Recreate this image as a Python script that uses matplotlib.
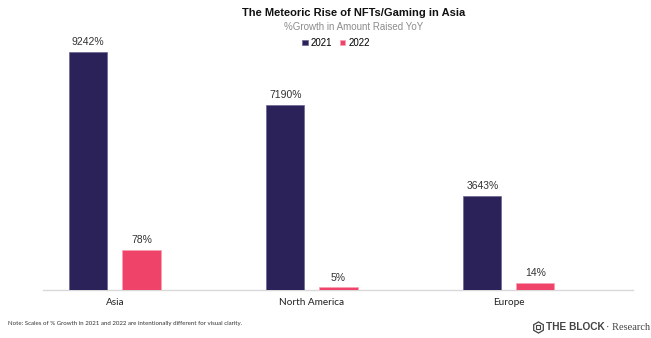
import matplotlib
matplotlib.use("Agg")
import matplotlib.pyplot as plt
from matplotlib.lines import Line2D
import numpy as np

categories = ["Asia", "North America", "Europe"]
values_2021 = [9242, 7190, 3643]
values_2022 = [78, 5, 14]
series_names = ["2021", "2022"]

NAVY = "#2B225A"
PINK = "#F0436A"

fig = plt.figure(figsize=(6.51, 3.38), dpi=100)
ax = fig.add_axes([43/651, 1-290/338, (633-43)/651, 250/338])
ax2 = ax.twinx()

x = np.arange(len(categories))
w = 0.193
off = 0.135

b1 = ax.bar(x - off, values_2021, w, color=NAVY, edgecolor="#6a6590", linewidth=0.5, label=series_names[0], zorder=3)
b2 = ax2.bar(x + off, values_2022, w, color=PINK, edgecolor="#f7a0b4", linewidth=0.5, label=series_names[1], zorder=3)

ax.set_ylim(0, 9708)
ax2.set_ylim(0, 487.5)
ax.set_xlim(-0.365, 2.63)

for a in (ax, ax2):
    for s in a.spines.values():
        s.set_visible(False)
    a.set_yticks([])
ax.spines["bottom"].set_visible(True)
ax.spines["bottom"].set_color("#d9d9d9")
ax.spines["bottom"].set_linewidth(1.0)

ax.set_xticks(x)
ax.set_xticklabels(categories, fontsize=7.2, family="Lato", color="#222222")
ax.tick_params(axis="x", length=0, pad=6)

for rect, v in zip(b1, values_2021):
    ax.annotate(f"{v}%", (rect.get_x() + rect.get_width()/2, rect.get_height()),
                xytext=(0, 3.5), textcoords="offset points", ha="center", va="bottom",
                fontsize=7.5, family="Liberation Sans", color="#333333")
for rect, v in zip(b2, values_2022):
    ax2.annotate(f"{v}%", (rect.get_x() + rect.get_width()/2, rect.get_height()),
                 xytext=(0, 3.5), textcoords="offset points", ha="center", va="bottom",
                 fontsize=7.5, family="Liberation Sans", color="#333333")

fig.text(354/651, 1-13/338, "The Meteoric Rise of NFTs/Gaming in Asia", ha="center", va="center",
         fontsize=8, fontweight="bold", family="Liberation Sans", color="#111111")
fig.text(354/651, 1-27/338, "%Growth in Amount Raised YoY", ha="center", va="center",
         fontsize=7, family="Liberation Sans", color="#8c8c8c")

handles = [b1, b2]
leg = fig.legend(handles, series_names, loc="center", bbox_to_anchor=(336/651, 1-43/338), ncol=2,
                 frameon=False, handlelength=0.55, handleheight=0.55,
                 handletextpad=0.3, columnspacing=0.8, prop={"family": "Liberation Sans", "size": 7})

fig.text(8/651, 1-323/338, "Note: Scales of % Growth in 2021 and 2022 are intentionally different for visual clarity.",
         ha="left", va="center", fontsize=4.4, family="Lato", color="#333333")

# logo: hexagon icon (glyph unavailable) drawn as a shape
fig.add_artist(Line2D([538/651], [1-327/338], marker="h", markersize=8, markerfacecolor="none",
                      markeredgecolor="#444444", markeredgewidth=0.9, transform=fig.transFigure))
fig.add_artist(Line2D([538/651], [1-327/338], marker="s", markersize=3, markerfacecolor="none",
                      markeredgecolor="#444444", markeredgewidth=0.8, transform=fig.transFigure))
fig.text(546/651, 1-327/338, "THE BLOCK", ha="left", va="center", fontsize=7.3, fontweight="bold",
         family="Liberation Sans", color="#444444")
fig.text(650/651, 1-327/338, "\u00b7 Research", ha="right", va="center", fontsize=7.5,
         family="Liberation Serif", color="#444444")

fig.savefig("out.png", dpi=100, facecolor="white")
